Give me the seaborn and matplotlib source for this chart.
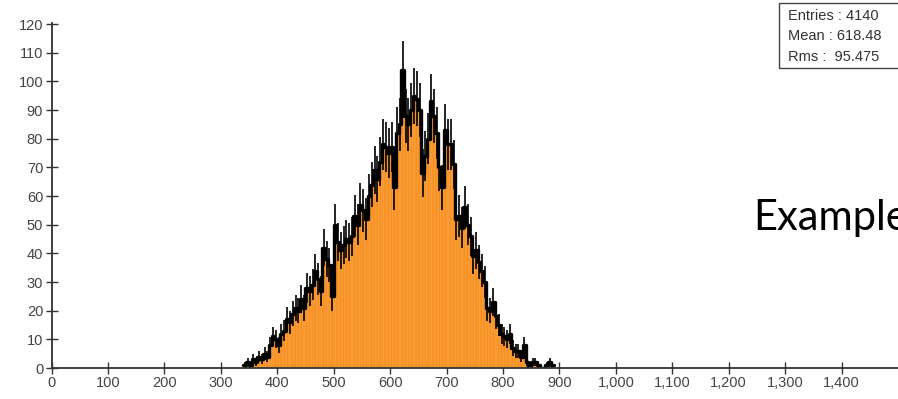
import numpy as np
import pandas as pd
import matplotlib
matplotlib.use("Agg")
import matplotlib.pyplot as plt
import matplotlib.ticker as mticker
import seaborn as sns

# ---- data (bin low edges, width 5) ----
bin_start = 340
bin_width = 5
counts = [1, 2, 1, 3, 2, 4, 3, 5, 4, 8,
          11, 10, 8, 12, 13, 17, 16, 19, 21, 20,
          24, 21, 28, 27, 29, 34, 31, 27, 42, 38,
          36, 25, 50, 44, 41, 43, 45, 44, 46, 53,
          50, 57, 55, 52, 60, 64, 69, 66, 72, 78,
          77, 75, 77, 63, 82, 85, 104, 88, 85, 90,
          95, 94, 90, 68, 74, 80, 93, 88, 82, 70,
          63, 83, 78, 78, 71, 52, 53, 49, 56, 50,
          46, 39, 41, 37, 34, 30, 21, 20, 23, 18,
          15, 12, 11, 10, 12, 7, 6, 6, 4, 8,
          2, 0, 2, 2, 1, 0, 0, 1, 2, 1]
x_ticks = list(range(0, 1500, 100))
y_ticks = list(range(0, 121, 10))
stats_lines = ["Entries : 4140", "Mean : 618.48", "Rms :  95.475"]
side_text = "Example"

counts = np.array(counts, dtype=float)
edges = bin_start + bin_width * np.arange(len(counts) + 1)
centers = edges[:-1] + bin_width / 2
df = pd.DataFrame({"x": centers, "n": counts})

sns.set_theme(style="white")
plt.rcParams["font.family"] = ["Liberation Sans", "DejaVu Sans"]

fig = plt.figure(figsize=(8.98, 3.99), dpi=100)
ax = fig.add_axes([51.5 / 898, 31 / 399, 1 - 51.5 / 898, (368 - 22.6) / 399])

sns.histplot(data=df, x="x", weights="n", binwidth=bin_width,
             binrange=(float(edges[0]), float(edges[-1])), ax=ax,
             color="#F7901E", alpha=1.0, edgecolor="#FAB36A", linewidth=0.3)

# black top outline & error bars
ax.step(edges, np.append(counts, counts[-1]), where="post", color="black", lw=2.4)
ax.errorbar(centers, counts, yerr=np.sqrt(counts), fmt="none",
            ecolor="black", elinewidth=1.2)

ax.set_xlim(0, 1500)
ax.set_ylim(0, 120.5)
ax.set_xticks(x_ticks)
ax.set_yticks(y_ticks)
ax.xaxis.set_major_formatter(mticker.FuncFormatter(lambda v, p: f"{int(v):,}"))
ax.set_xlabel("")
ax.set_ylabel("")

for s in ["top", "right"]:
    ax.spines[s].set_visible(False)
for s in ["left", "bottom"]:
    ax.spines[s].set_color("#333333")
    ax.spines[s].set_linewidth(1.3)
ax.tick_params(axis="both", direction="inout", length=8, width=1.0,
               color="#333333", labelsize=10.5, labelcolor="#444444", pad=2,
               bottom=True, left=True)

# stats box
box = plt.Rectangle((779 / 898, 1 - 68.3 / 399), 0.2, (68.3 - 3.3) / 399,
                    transform=fig.transFigure, fill=False, edgecolor="#444444",
                    lw=1.0, clip_on=False)
fig.add_artist(box)
for i, t in enumerate(stats_lines):
    fig.text(788 / 898, 1 - (16 + 20.5 * i) / 399, t, fontsize=10.5,
             color="#333333", va="center", ha="left")

fig.text(753 / 898, 1 - 230 / 399, side_text, fontsize=30,
         family=["Lato", "DejaVu Sans"], color="black", va="baseline", ha="left")

fig.savefig("out.png", dpi=100)
